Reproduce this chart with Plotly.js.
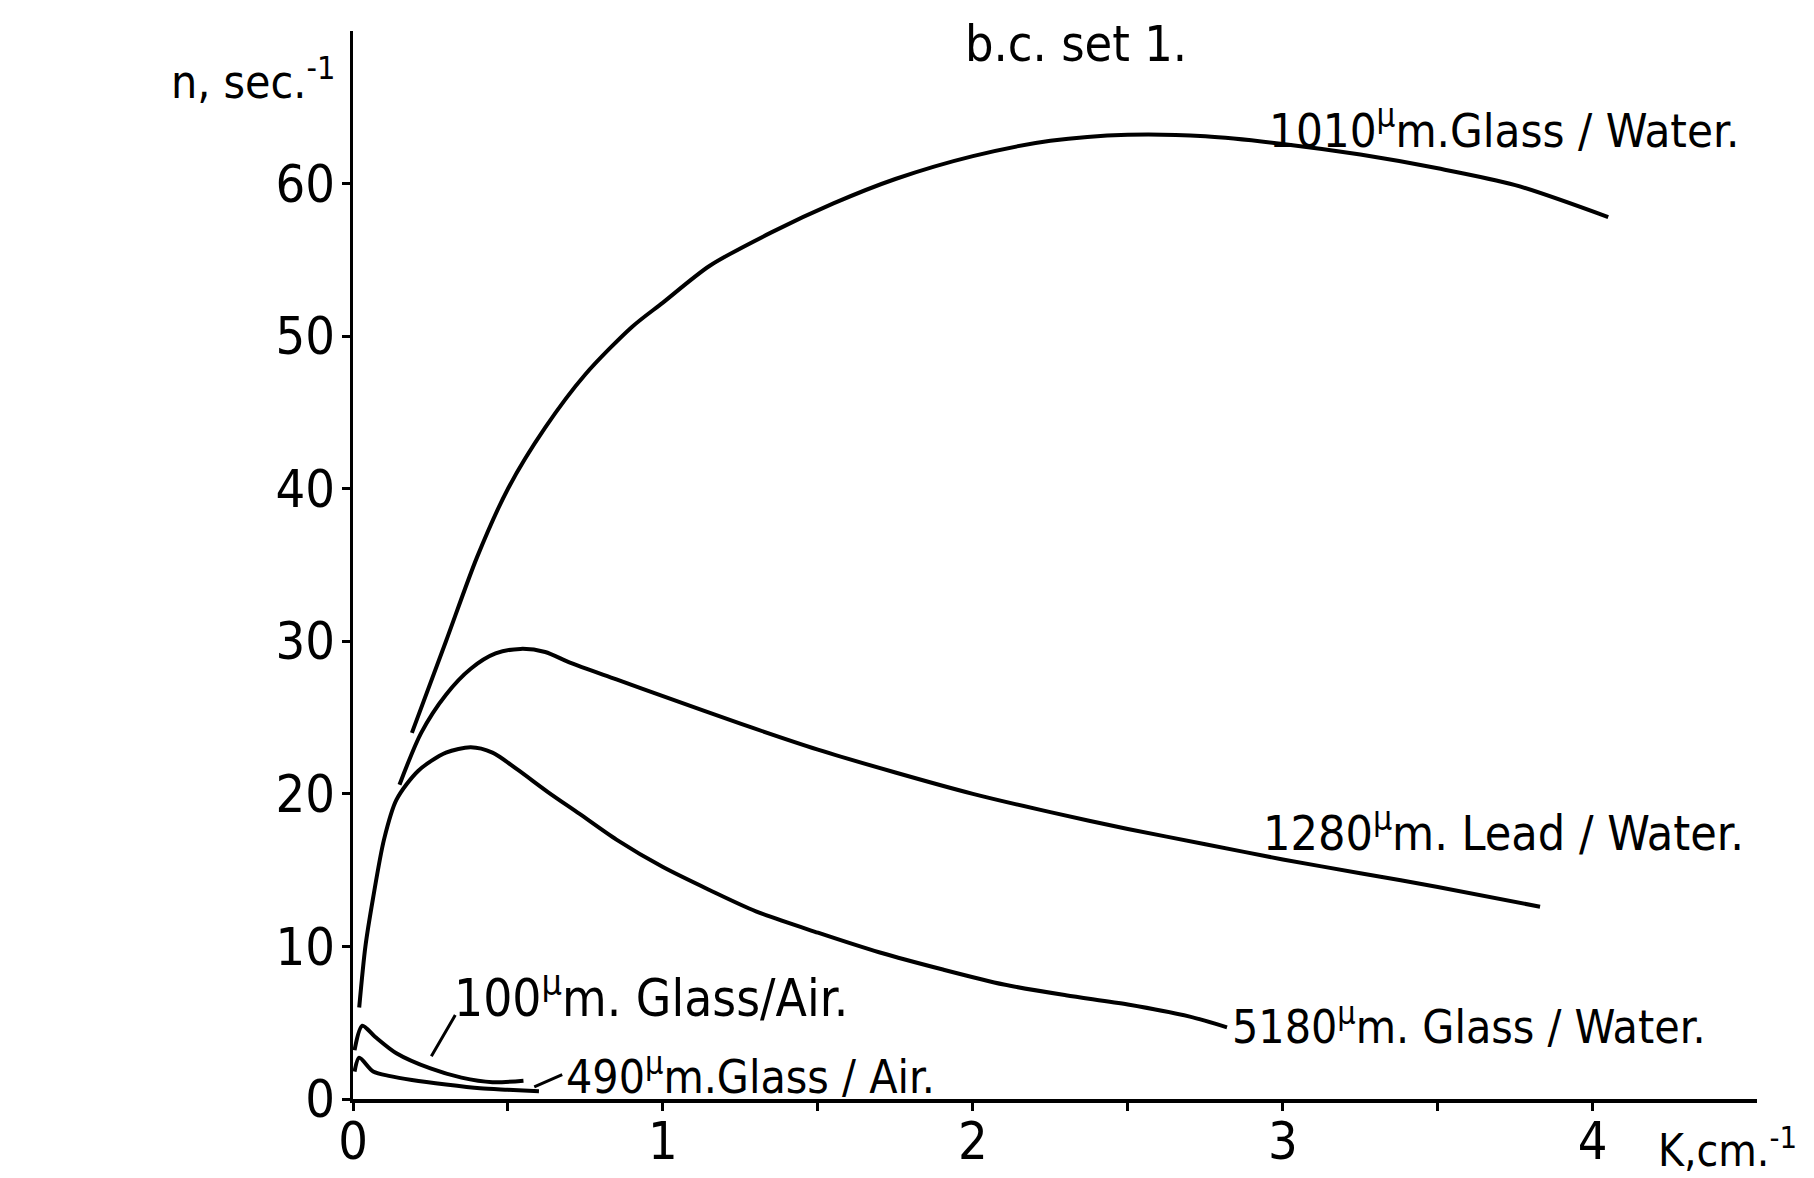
<!DOCTYPE html>
<html>
<head>
<meta charset="utf-8">
<script src="https://cdn.plot.ly/plotly-3.0.1.min.js"></script>
<style>
  html, body { margin: 0; padding: 0; background: #ffffff; }
  #chart { width: 1814px; height: 1178px; }
</style>
</head>
<body>
<div id="chart"></div>
<script>
// ---- Data (K in cm^-1, n in sec^-1) ----
const k1010 = [0.19, 0.30, 0.40, 0.50, 0.62, 0.75, 0.90, 1.00, 1.15, 1.35, 1.55, 1.75, 2.00, 2.25, 2.50, 2.75, 3.00, 3.25, 3.50, 3.75, 4.05];
const n1010 = [24.0, 30.0, 35.5, 40.0, 44.0, 47.5, 50.6, 52.2, 54.6, 56.8, 58.7, 60.3, 61.8, 62.8, 63.2, 63.1, 62.6, 61.9, 61.0, 59.9, 57.8];

const k1280 = [0.15, 0.22, 0.30, 0.38, 0.46, 0.54, 0.62, 0.70, 0.85, 1.00, 1.25, 1.50, 1.75, 2.00, 2.25, 2.50, 2.75, 3.00, 3.25, 3.50, 3.83];
const n1280 = [20.6, 24.0, 26.5, 28.2, 29.2, 29.5, 29.3, 28.6, 27.5, 26.4, 24.6, 22.9, 21.4, 20.0, 18.8, 17.7, 16.7, 15.7, 14.8, 13.9, 12.6];

const k5180 = [0.02, 0.04, 0.065, 0.10, 0.14, 0.21, 0.30, 0.38, 0.45, 0.53, 0.63, 0.73, 0.85, 1.00, 1.15, 1.30, 1.50, 1.70, 1.90, 2.10, 2.30, 2.50, 2.70, 2.82];
const n5180 = [6.0, 10.0, 13.2, 17.0, 19.6, 21.5, 22.7, 23.05, 22.7, 21.6, 20.1, 18.7, 17.0, 15.2, 13.7, 12.3, 10.9, 9.6, 8.5, 7.5, 6.8, 6.2, 5.4, 4.7];

const k100 = [0.005, 0.03, 0.07, 0.14, 0.25, 0.35, 0.45, 0.55];
const n100 = [3.2, 4.8, 4.1, 3.0, 2.0, 1.4, 1.1, 1.2];

const k490 = [0.005, 0.02, 0.065, 0.12, 0.19, 0.30, 0.41, 0.50, 0.60];
const n490 = [1.8, 2.7, 1.8, 1.5, 1.25, 0.95, 0.7, 0.6, 0.5];

const xTickVals = [0, 0.5, 1, 1.5, 2, 2.5, 3, 3.5, 4];
const xTickText = ['0', '', '1', '', '2', '', '3', '', '4'];
const yTickVals = [0, 10, 20, 30, 40, 50, 60];
const yTickText = ['0', '10', '20', '30', '40', '50', '60'];

const labels = [
  {text: '1010<sup>μ</sup>m.Glass / Water.', x: 2.95, y: 63.7, size: 47},
  {text: '1280<sup>μ</sup>m. Lead / Water.', x: 2.93, y: 17.6, size: 48},
  {text: '5180<sup>μ</sup>m. Glass / Water.', x: 2.83, y: 4.9, size: 46},
  {text: '100<sup>μ</sup>m. Glass/Air.', x: 0.32, y: 6.8, size: 51},
  {text: '490<sup>μ</sup>m.Glass / Air.', x: 0.68, y: 1.65, size: 46}
];
// leader lines: [x, y, x_to, y_to]
const leaders = [
  [0.25, 2.7, 0.33, 5.5],
  [0.58, 0.75, 0.675, 1.6]
];

const FONT = 'Liberation Sans Narrow, DejaVu Sans Condensed, Arial Narrow, sans-serif';
const lineStyle = {color: '#000000', width: 4, shape: 'spline', smoothing: 0.8};

function tr(x, y, name) {
  return {x: x, y: y, name: name, type: 'scatter', mode: 'lines', line: lineStyle, hoverinfo: 'skip', showlegend: false};
}

const data = [
  tr(k1010, n1010, '1010 μm Glass/Water'),
  tr(k1280, n1280, '1280 μm Lead/Water'),
  tr(k5180, n5180, '5180 μm Glass/Water'),
  tr(k100, n100, '100 μm Glass/Air'),
  tr(k490, n490, '490 μm Glass/Air')
];

const annotations = [];
labels.forEach(l => annotations.push({
  x: l.x, y: l.y, xref: 'x', yref: 'y', text: l.text, showarrow: false,
  xanchor: 'left', yanchor: 'middle', font: {family: FONT, size: l.size, color: '#000'}
}));
leaders.forEach(p => annotations.push({
  x: p[2], y: p[3], ax: p[0], ay: p[1], xref: 'x', yref: 'y', axref: 'x', ayref: 'y',
  text: '', showarrow: true, arrowhead: 0, arrowwidth: 3, arrowcolor: '#000'
}));
annotations.push({
  x: 0, y: 0.955, xref: 'paper', yref: 'paper', xanchor: 'right', yanchor: 'middle', xshift: -16,
  text: 'n, sec.<sup>-1</sup>', showarrow: false, font: {family: FONT, size: 46, color: '#000'}
});
annotations.push({
  x: 0.928, y: -0.045, xref: 'paper', yref: 'paper', xanchor: 'left', yanchor: 'middle',
  text: 'K,cm.<sup>-1</sup>', showarrow: false, font: {family: FONT, size: 44, color: '#000'}
});

const layout = {
  width: 1814, height: 1178,
  paper_bgcolor: '#ffffff', plot_bgcolor: '#ffffff',
  margin: {l: 353, r: 57, t: 31, b: 79, pad: 0},
  showlegend: false,
  title: {
    text: 'b.c. set 1.', x: 0.515, xref: 'paper', xanchor: 'center',
    y: 0.963, yref: 'container', yanchor: 'middle',
    font: {family: FONT, size: 50, color: '#000'}
  },
  xaxis: {
    range: [0, 4.53], showgrid: false, zeroline: false,
    showline: true, linecolor: '#000', linewidth: 3.5,
    tickmode: 'array', tickvals: xTickVals, ticktext: xTickText,
    ticks: 'outside', ticklen: 8, tickwidth: 3, tickcolor: '#000',
    ticklabelstandoff: -14,
    tickfont: {family: FONT, size: 52, color: '#000'}
  },
  yaxis: {
    range: [0, 70], showgrid: false, zeroline: false,
    showline: true, linecolor: '#000', linewidth: 3.5,
    tickmode: 'array', tickvals: yTickVals, ticktext: yTickText,
    ticks: 'outside', ticklen: 8, tickwidth: 3, tickcolor: '#000',
    ticklabelstandoff: -4,
    tickfont: {family: FONT, size: 52, color: '#000'}
  },
  annotations: annotations
};

Plotly.newPlot('chart', data, layout, {displayModeBar: false, staticPlot: true});
</script>
</body>
</html>
